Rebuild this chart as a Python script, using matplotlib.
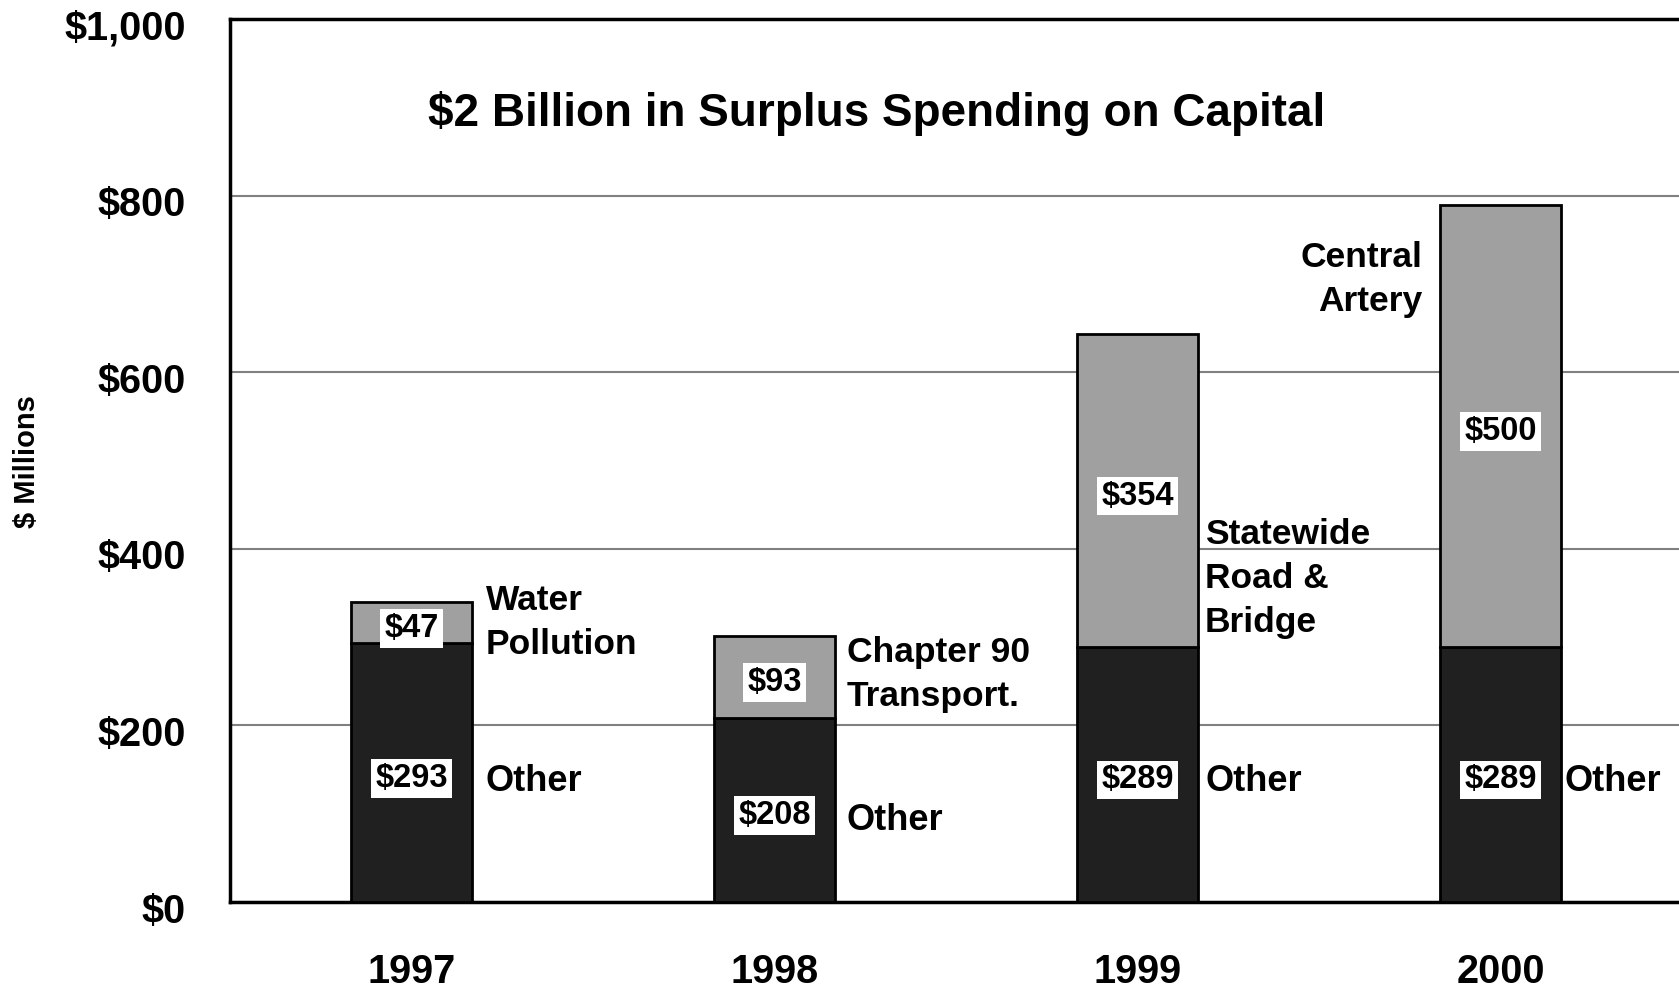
import numpy as np
import matplotlib.pyplot as plt
import matplotlib.transforms as mtransforms

plt.rcParams['font.family'] = ['Liberation Sans', 'DejaVu Sans']
plt.rcParams['font.weight'] = 'bold'

# Data
years = ['1997', '1998', '1999', '2000']
other = [293, 208, 289, 289]
special = [47, 93, 354, 500]
special_names = ['Water\nPollution', 'Chapter 90\nTransport.', 'Statewide\nRoad &\nBridge', 'Central\nArtery']

# label placement (x offset from bar centre, y in data units, alignment)
special_pos = [(0.205, 317, 'left'), (0.2, 258, 'left'), (0.186, 366, 'left'), (-0.215, 705, 'right')]
other_pos = [(0.205, 136), (0.197, 92), (0.186, 136), (0.175, 136)]

dark = '#202020'
grey = '#a0a0a0'

fig = plt.figure(figsize=(16.79, 9.92), dpi=100)
ax = fig.add_axes([230/1679, 1 - 902/992, (1682 - 230)/1679, (902 - 19)/992])

x = np.arange(len(years))
ax.bar(x, other, width=1/3, color=dark, edgecolor='black', linewidth=2, zorder=3)
ax.bar(x, special, width=1/3, bottom=other, color=grey, edgecolor='black', linewidth=2, zorder=3)

box = dict(facecolor='white', edgecolor='none', boxstyle='square,pad=0.12')
for i in range(len(years)):
    ax.annotate(f'${other[i]}', (x[i], other[i] / 2), xytext=(0, -4), textcoords='offset points',
                ha='center', va='center', fontsize=23.5, bbox=box, zorder=4)
    ax.annotate(f'${special[i]}', (x[i], other[i] + special[i] / 2), xytext=(0, -4),
                textcoords='offset points', ha='center', va='center', fontsize=23.5,
                bbox=box, zorder=4)
    dx, yy, ha = special_pos[i]
    ax.text(x[i] + dx, yy, special_names[i], ha=ha, va='center', fontsize=25.5,
            linespacing=1.42, zorder=4)
    dx, yy = other_pos[i]
    ax.text(x[i] + dx, yy, 'Other', ha='left', va='center', fontsize=26, zorder=4)

ax.text(1.28, 893, '$2 Billion in Surplus Spending on Capital', ha='center', va='center',
        fontsize=33)

ax.set_xlim(-0.5, 3.5)
ax.set_ylim(0, 1000)
ax.set_yticks(range(0, 1001, 200))
ax.set_yticklabels([f'${v:,}' for v in range(0, 1001, 200)])
ax.set_xticks(x)
ax.set_xticklabels(years)
ax.tick_params(axis='y', length=0, pad=32, labelsize=28.5)
ax.tick_params(axis='x', length=0, pad=37, labelsize=28.5)
shift = mtransforms.ScaledTranslation(0, -4 / 72, fig.dpi_scale_trans)
for lab in ax.get_yticklabels():
    lab.set_transform(lab.get_transform() + shift)
ax.yaxis.grid(True, color='#808080', linewidth=1.5, zorder=0)
ax.set_axisbelow(True)
for s in ['left', 'bottom', 'top', 'right']:
    ax.spines[s].set_linewidth(2.5)
    ax.spines[s].set_color('black')

fig.text(27/1679, 1 - 462/992, '$ Millions', rotation=90, ha='center', va='center', fontsize=21)

fig.savefig('out.png', dpi=100)
